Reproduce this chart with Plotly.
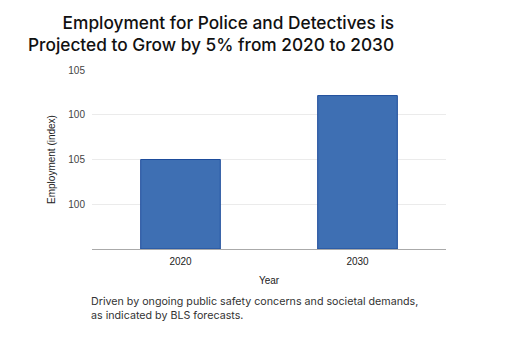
import numpy as np
import plotly.graph_objects as go

# Employment index by year
years = ["2020", "2030"]
employment = [100, 105]

# Value axis labels, bottom to top (the baseline carries no label)
y_tick_labels = ["100", "105", "100", "105"]
y_range = [93, 107]

title_lines = ["Employment for Police and Detectives is",
               "Projected to Grow by 5% from 2020 to 2030"]
caption_lines = ["Driven by ongoing public safety concerns and societal demands,",
                 "as indicated by BLS forecasts."]

tick_positions = np.linspace(y_range[0], y_range[1], len(y_tick_labels) + 1)[1:]

L, R, T, B = 92, 66, 70, 92
W, H = 512, 341
pw, ph = W - L - R, H - T - B

fig = go.Figure(
    go.Bar(
        x=years,
        y=[v - y_range[0] for v in employment],
        base=y_range[0],
        width=0.45,
        marker=dict(color="#3e6fb3", line=dict(color="#1d4c9b", width=1)),
        hoverinfo="skip",
    )
)

fig.update_layout(
    width=W,
    height=H,
    margin=dict(l=L, r=R, t=T, b=B),
    paper_bgcolor="white",
    plot_bgcolor="white",
    showlegend=False,
    font=dict(family="Liberation Sans, Arial, sans-serif", size=10, color="#333"),
    xaxis=dict(
        type="category",
        showline=True,
        linecolor="#aaaaaa",
        linewidth=1,
        ticks="",
        ticklabelstandoff=3,
        tickfont=dict(size=10, color="#222"),
        title=dict(text="Year", font=dict(size=10, color="#222"), standoff=10),
        showgrid=False,
    ),
    yaxis=dict(
        range=y_range,
        tickvals=list(tick_positions),
        ticktext=y_tick_labels,
        showgrid=True,
        gridcolor="#ebebeb",
        gridwidth=1,
        zeroline=False,
        showline=False,
        ticks="",
        ticklabelstandoff=6,
        tickfont=dict(size=10, color="#444"),
        title=dict(text="Employment (index)", font=dict(size=10, color="#222"), standoff=10),
    ),
    annotations=[
        dict(
            text="<br>".join(title_lines),
            xref="paper", yref="paper",
            x=(396 - L) / pw, y=1 + (T - 10) / ph,
            xanchor="right", yanchor="top",
            align="right",
            showarrow=False,
            font=dict(family="Inter, sans-serif", size=17.3, color="#111", weight=500),
        ),
        dict(
            text="<br>".join(caption_lines),
            xref="paper", yref="paper",
            x=(89 - L) / pw, y=-(293 - (H - B)) / ph,
            xanchor="left", yanchor="top",
            align="left",
            showarrow=False,
            font=dict(family="Inter, sans-serif", size=10.7, color="#333"),
        ),
    ],
)

fig.write_html("out.html")
